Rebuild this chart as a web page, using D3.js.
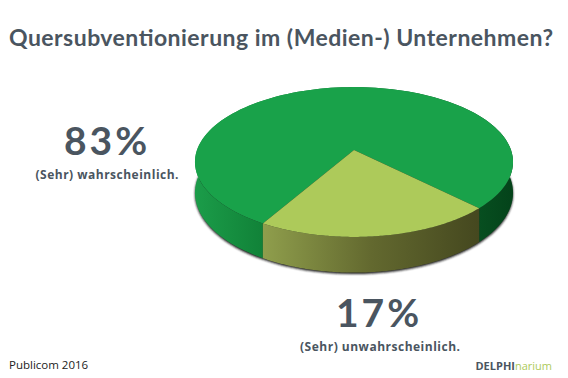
<!DOCTYPE html>
<html>
<head>
<meta charset="utf-8">
<script src="https://cdn.jsdelivr.net/npm/d3@7"></script>
<style>
  html, body { margin: 0; padding: 0; background: #fff; }
  svg { display: block; }
  text { font-family: "Open Sans", sans-serif; fill: #4a5560; }
</style>
</head>
<body>
<svg id="chart" width="568" height="378"></svg>
<script>
// chart data
const categories = ["(Sehr) unwahrscheinlich.", "(Sehr) wahrscheinlich."];
const shares = [17, 83];
const topColors = ["#adca5a", "#19a24a"];
const title = "Quersubventionierung im (Medien-) Unternehmen?";

const svg = d3.select("#chart");

// view of the tilted disc
const cx = 354, cy = 150;
const scaleX = 157, scaleY = 73, persp = 0.16, depth = 30;

// the small slice sits in front, the picture stretches it a little
const pie = d3.pie().sort(null)(shares);
const toRad = d => d * Math.PI / 180;
const viewAngle = d3.scaleLinear()
    .domain([pie[0].startAngle, pie[0].endAngle, pie[1].endAngle])
    .range([toRad(-30), toRad(45), toRad(330)]);

// project a point of the unit disc, angle 0 faces the viewer
function project(angle, r, drop) {
    const a = viewAngle(angle);
    const u = r * Math.sin(a), v = r * Math.cos(a);
    const w = 1 / (1 - persp * v);
    return [cx + scaleX * u * w, cy + scaleY * v * w + (drop || 0) * w];
}

const line = d3.line();

function rim(start, end, drop) {
    const steps = d3.range(0, 121).map(i => start + (end - start) * i / 120);
    return steps.map(a => project(a, 1, drop));
}

const defs = svg.append("defs");

defs.append("filter").attr("id", "blur")
    .attr("x", "-5%").attr("y", "-5%").attr("width", "110%").attr("height", "110%")
    .append("feGaussianBlur").attr("stdDeviation", 0.9);

function gradient(id, x1, x2, stops) {
    const g = defs.append("linearGradient").attr("id", id)
        .attr("gradientUnits", "userSpaceOnUse")
        .attr("x1", x1).attr("x2", x2).attr("y1", 0).attr("y2", 0);
    g.selectAll("stop").data(stops).join("stop")
        .attr("offset", d => d[0])
        .attr("stop-color", d => d[1]);
}

gradient("wall0", 263, 478, [[0, "#8f9e4c"], [0.5, "#63692f"], [1, "#45481f"]]);
gradient("wall1", 196, 512, [[0, "#1b9c49"], [0.21, "#118238"], [0.89, "#074f20"], [1, "#04431a"]]);

// soft shadow along the bottom edge
svg.append("path")
    .attr("d", line(rim(0, 2 * Math.PI, depth + 1.2)) + "Z")
    .attr("fill", "#1c1c1c")
    .attr("filter", "url(#blur)");

// side walls, big slice first
svg.selectAll(".wall")
    .data([pie[1], pie[0]])
    .join("path")
    .attr("class", "wall")
    .attr("d", d => line(rim(d.startAngle, d.endAngle, 0).concat(rim(d.startAngle, d.endAngle, depth).reverse())) + "Z")
    .attr("fill", d => `url(#wall${d.index})`);

// top faces
svg.selectAll(".top")
    .data([pie[1], pie[0]])
    .join("path")
    .attr("class", "top")
    .attr("d", d => line([[cx, cy]].concat(rim(d.startAngle, d.endAngle, 0))) + "Z")
    .attr("fill", d => topColors[d.index]);

// texts
svg.append("text").attr("x", 281).attr("y", 46)
    .attr("text-anchor", "middle")
    .style("font-family", "Lato, sans-serif")
    .attr("font-size", 23).attr("font-weight", 700)
    .attr("textLength", 544).attr("lengthAdjust", "spacing")
    .text(title);

const labels = [
    { big: 107, y: 155, small: 107, ySmall: 179, i: 1 },
    { big: 379, y: 327, small: 380, ySmall: 351, i: 0 }
];

svg.selectAll(".share").data(labels).join("text")
    .attr("class", "share")
    .attr("x", d => d.big).attr("y", d => d.y)
    .attr("text-anchor", "middle")
    .style("font-family", "Lato, sans-serif")
    .attr("font-size", 39).attr("font-weight", 700)
    .attr("letter-spacing", 3)
    .text(d => shares[d.i] + "%");

svg.selectAll(".cat").data(labels).join("text")
    .attr("class", "cat")
    .attr("x", d => d.small).attr("y", d => d.ySmall)
    .attr("text-anchor", "middle")
    .attr("font-size", 12).attr("font-weight", 700)
    .attr("textLength", d => d.i === 0 ? 160 : 143)
    .text(d => categories[d.i]);

svg.append("text").attr("x", 9).attr("y", 369)
    .attr("font-size", 11.5).style("fill", "#222")
    .text("Publicom 2016");

const brand = svg.append("text").attr("x", 552).attr("y", 370)
    .attr("text-anchor", "end")
    .attr("font-size", 11).attr("font-weight", 700);
brand.append("tspan").text("DELPHI");
brand.append("tspan").style("fill", "#adca5a").attr("font-weight", 400).text("narium");
</script>
</body>
</html>
